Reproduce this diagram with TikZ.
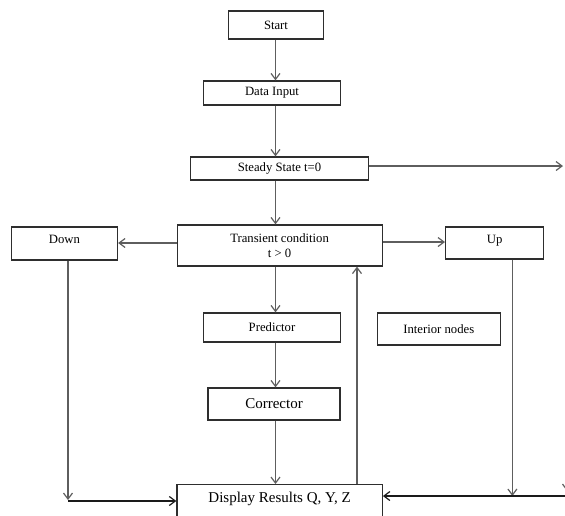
\documentclass[tikz,border=0pt]{standalone}
\usepackage{fontspec}
\setmainfont{Liberation Serif}
\usetikzlibrary{arrows.meta}
\definecolor{boxline}{HTML}{2E2E2E}
\definecolor{wire}{HTML}{5E5E5E}
\definecolor{wiredark}{HTML}{1A1A1A}
\begin{document}
\begin{tikzpicture}[x=1pt, y=-1pt,
  box/.style={draw=boxline, line width=1.2pt, inner sep=0pt, align=center,
    font=\fontsize{12.7}{15}\selectfont},
  bigbox/.style={box, font=\fontsize{15}{17}\selectfont},
  arr/.style={draw=wire, line width=1.2pt, -{Straight Barb[length=6pt, width=9pt]}},
  arrdark/.style={arr, draw=wiredark}]
\useasboundingbox (0,0) rectangle (565,515);
\clip (0,0) rectangle (565,515);

% process boxes
\node[box, minimum width=95pt, minimum height=28pt] (start) at (276,25) {Start};
\node[box, minimum width=137pt, minimum height=24pt] (data) at (272,93) {Data Input};
\node[box, minimum width=178pt, minimum height=23pt] (steady) at (279.5,168.5) {Steady State t=0};
\node[box, minimum width=205pt, minimum height=41pt] (trans) at (279.6,245.5) {Transient condition\\t > 0};
\node[box, minimum width=106pt, text height=16.5pt, text depth=16.5pt] (down) at (64.5,243.5) {Down};
\node[box, minimum width=98pt, text height=16pt, text depth=16pt] (up) at (494.6,243) {Up};
\node[box, minimum width=137pt, minimum height=29pt] (pred) at (272,327.5) {Predictor};
\node[box, minimum width=123pt, minimum height=32pt] (inter) at (438.8,329) {Interior nodes};
\node[bigbox, minimum width=132pt, minimum height=32pt] (corr) at (274,404) {Corrector};
\node[bigbox, minimum width=205.4pt, text height=18pt, text depth=40pt, anchor=north] (disp) at (279.6,484) {Display Results Q, Y, Z};

% reference points for the connector routes
\coordinate (spine) at (275.5,0);
\coordinate (sR) at (563,166);
\coordinate (fb) at (357,0);
\coordinate (dl) at (68,500);
\coordinate (dlc) at (68,501);
\coordinate (ul) at (512.4,496);
\coordinate (rin) at (567,496);
\coordinate (rtop) at (567,470);
\coordinate (rtip) at (567,491);

% main chain
\draw[arr] (spine |- start.south) -- (spine |- data.north);
\draw[arr] (spine |- data.south) -- (spine |- steady.north);
\draw[arr] (steady.east |- sR) -- (sR);
\draw[arr] (spine |- steady.south) -- (spine |- trans.north);
\draw[arr] (trans.west |- 0,243) -- (down.east |- 0,243);
\draw[arr] (trans.east |- 0,242) -- (up.west |- 0,242);
\draw[arr] (spine |- trans.south) -- (spine |- pred.north);
\draw[arr] (spine |- pred.south) -- (spine |- corr.north);
\draw[arr] (spine |- corr.south) -- (spine |- disp.north);

% feedback to the transient step
\draw[arr] (fb |- disp.north) -- (fb |- trans.south);

% boundary branches into the results
\draw[arr] (dl |- down.south) -- (dl);
\draw[arrdark] (dlc) -- (dlc -| disp.west);
\draw[arr] (ul |- up.south) -- (ul);
\draw[arrdark] (rin) -- (rin -| disp.east);
\draw[arr] (rtop) -- (rtip);
\end{tikzpicture}
\end{document}
